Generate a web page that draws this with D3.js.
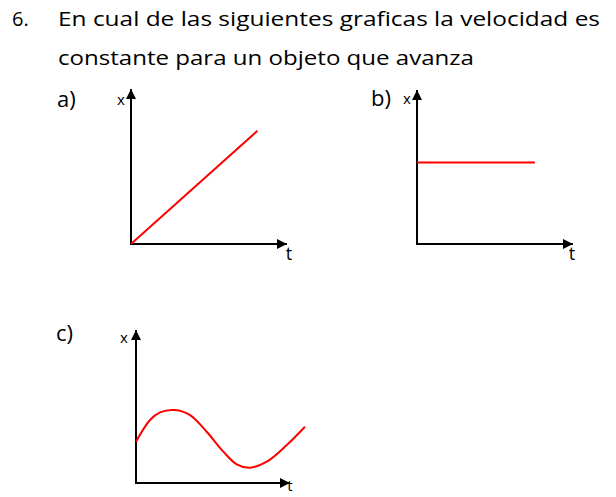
<!DOCTYPE html>
<html>
<head>
<meta charset="utf-8">
<script src="https://cdn.jsdelivr.net/npm/d3@7"></script>
<style>
  html, body { margin: 0; padding: 0; background: #fff; }
  svg { display: block; }
  text { font-family: "Open Sans", Lato, sans-serif; fill: #000; }
</style>
</head>
<body>
<svg id="chart" width="616" height="497"></svg>
<script>
// Question text
const titleLines = [
  "En cual de las siguientes graficas la velocidad  es",
  "constante para un objeto que avanza"
];
const questionNumber = "6.";
const panelLabels = ["a)", "b)", "c)"];
const axisLabelX = "t";
const axisLabelY = "x";

// Position vs. time for each option (t, x), in axis units 0..10
const seriesA = [[0, 0], [8.1, 7.3]];
const seriesB = [[0, 5.3], [7.56, 5.3]];
const seriesC = [
  [0, 2.7], [0.91, 4.12], [1.56, 4.62], [2.53, 4.77], [3.51, 4.44],
  [4.59, 3.35], [5.67, 2.05], [6.54, 1.22], [7.4, 1.0], [8.49, 1.39],
  [9.79, 2.48], [10.97, 3.68]
];

const svg = d3.select("#chart");

svg.append("defs").append("marker")
  .attr("id", "arrow")
  .attr("markerUnits", "userSpaceOnUse")
  .attr("markerWidth", 12).attr("markerHeight", 12)
  .attr("refX", 10).attr("refY", 5)
  .attr("orient", "auto")
  .append("path")
  .attr("d", "M0,0 L10,5 L0,10 Z")
  .attr("fill", "#000");

// Question heading
svg.append("text").attr("x", 12).attr("y", 26)
  .attr("font-size", 20).attr("font-weight", 500).text(questionNumber);
svg.append("text").attr("x", 58).attr("y", 26)
  .attr("font-size", 20).attr("font-weight", 500)
  .attr("textLength", 542).attr("lengthAdjust", "spacingAndGlyphs")
  .style("font-variant-ligatures", "none")
  .text(titleLines[0]);
svg.append("text").attr("x", 58).attr("y", 65)
  .attr("font-size", 20).attr("font-weight", 500)
  .attr("textLength", 416).attr("lengthAdjust", "spacingAndGlyphs")
  .text(titleLines[1]);

const panels = [
  { label: panelLabels[0], lx: 57, ly: 107, ox: 131, oy: 244, w: 156, h: 155, data: seriesA, curve: d3.curveLinear,
    yl: [121, 105], tl: [289, 260], ts: 18 },
  { label: panelLabels[1], lx: 371, ly: 106, ox: 417, oy: 244, w: 156, h: 154, data: seriesB, curve: d3.curveLinear,
    yl: [407, 104], tl: [572, 260], ts: 18 },
  { label: panelLabels[2], lx: 56, ly: 341, ox: 136, oy: 483, w: 154, h: 153, data: seriesC, curve: d3.curveCatmullRom,
    yl: [124, 343], tl: [290, 491], ts: 15 }
];

panels.forEach(p => {
  const xs = d3.scaleLinear().domain([0, 10]).range([p.ox, p.ox + p.w]);
  const ys = d3.scaleLinear().domain([0, 10]).range([p.oy, p.oy - p.h]);
  const g = svg.append("g");

  g.append("text").attr("x", p.lx).attr("y", p.ly)
    .attr("font-size", 22).attr("font-weight", 500).text(p.label);

  // axes with arrowheads
  g.append("line")
    .attr("x1", xs(0)).attr("y1", ys(0)).attr("x2", xs(0)).attr("y2", ys(10))
    .attr("stroke", "#000").attr("stroke-width", 2).attr("marker-end", "url(#arrow)");
  g.append("line")
    .attr("x1", xs(0) - 1).attr("y1", ys(0)).attr("x2", xs(10)).attr("y2", ys(0))
    .attr("stroke", "#000").attr("stroke-width", 2).attr("marker-end", "url(#arrow)");

  g.append("text").attr("x", p.yl[0]).attr("y", p.yl[1])
    .attr("font-size", 15).attr("text-anchor", "middle").text(axisLabelY);
  g.append("text").attr("x", p.tl[0]).attr("y", p.tl[1])
    .attr("font-size", p.ts).attr("text-anchor", "middle").text(axisLabelX);

  const line = d3.line().x(d => xs(d[0])).y(d => ys(d[1])).curve(p.curve);
  g.append("path").datum(p.data)
    .attr("d", line)
    .attr("fill", "none").attr("stroke", "#ff0000").attr("stroke-width", 2);
});
</script>
</body>
</html>
